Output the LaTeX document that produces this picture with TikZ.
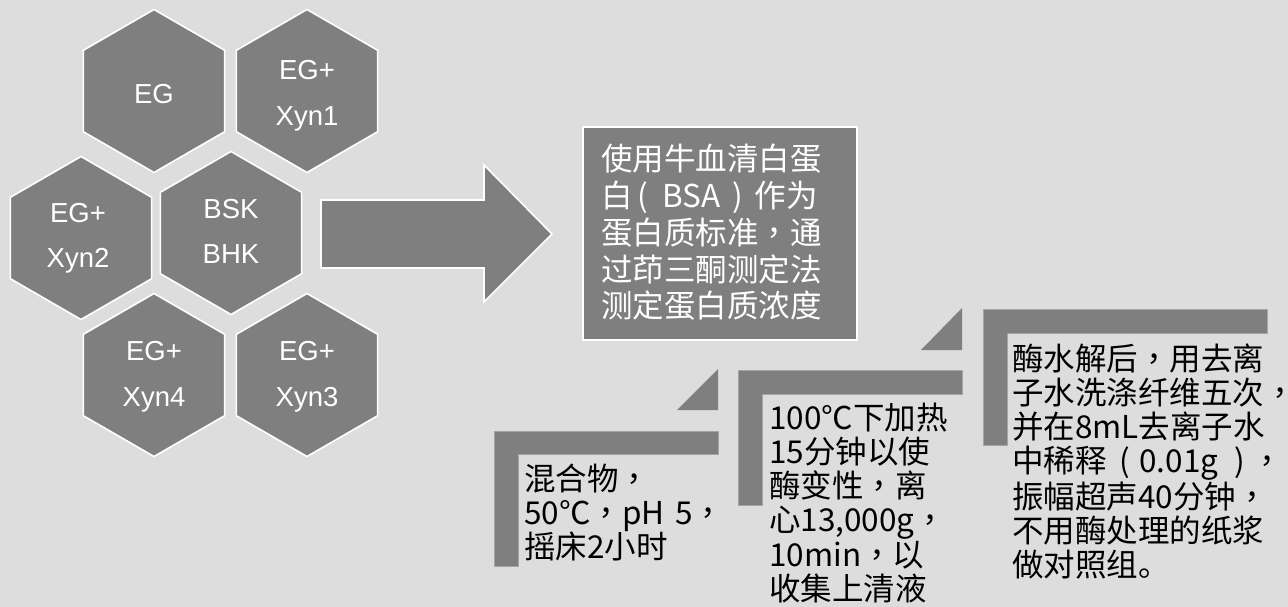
\documentclass[tikz,border=0pt]{standalone}
\usepackage{fontspec}
\setmainfont{Liberation Sans}
\newfontfamily\cjk{Noto Sans CJK SC}
\newfontfamily\cjktc{Noto Sans CJK TC}
\newcommand\zcm{{\cjktc ，}}
\definecolor{bg}{RGB}{221,221,221}
\definecolor{shapegray}{RGB}{127,127,127}
\definecolor{edgegray}{RGB}{165,165,165}
\tikzset{
  hexshape/.style={fill=shapegray, draw=white, line width=1.6pt, line join=miter},
  hextext/.style={text=white, font=\fontsize{27.5}{46}\selectfont, align=center, text width=140pt, inner sep=0pt, anchor=base},
  boxshape/.style={fill=shapegray, draw=white, line width=1.6pt, inner sep=0pt, anchor=north west},
  boxtext/.style={text=white, font=\cjk\fontsize{31.5}{36.7}\selectfont, align=left, text width=400pt, inner sep=0pt, anchor=base west},
  stepshape/.style={fill=shapegray, draw=edgegray, line width=0.6pt},
  steptext/.style={text=black, font=\cjk\fontsize{31.5}{34.3}\selectfont, align=left, text width=400pt, inner sep=0pt, anchor=base west},
  bigarrow/.style={fill=shapegray, draw=white, line width=1.6pt, line join=miter}
}
\begin{document}
\begin{tikzpicture}[x=1pt,y=-1pt]
\useasboundingbox (0,0) rectangle (1288,607);
\fill[bg] (0,0) rectangle (1288,607);

% hexagons
\foreach \cx/\cy in {154/91, 307/91, 81/238, 231/233, 154/375, 307/375}{
  \draw[hexshape, shift={(\cx,\cy)}] (90:81.5) -- (30:81.5) -- (-30:81.5) -- (-90:81.5) -- (-150:81.5) -- (150:81.5) -- cycle;
}
\node[hextext] (eg) at (154,104) {EG};
\node[hextext] (xyn1) at (307,80) {EG+\\Xyn1};
\node[hextext] (xyn2) at (78,222) {EG+\\Xyn2};
\node[hextext] (bsk) at (231,218) {BSK\\BHK};
\node[hextext] (xyn4) at (154,360) {EG+\\Xyn4};
\node[hextext] (xyn3) at (307,360) {EG+\\Xyn3};

% big arrow
\draw[bigarrow] (321,200) -- (484,200) -- (484,165) -- (552,234) -- (484,302) -- (484,268) -- (321,268) -- cycle;

% box
\node[boxshape, minimum width=274pt, minimum height=213pt] (box) at (582,126) {};
\node[boxtext] (boxt) at (601,171) {使用牛血清白蛋\\白\hspace{0.15em}(\hspace{0.45em}BSA\hspace{0.4em})\hspace{0.35em}作为\\蛋白质标准\zcm 通\\过茚三酮测定法\\测定蛋白质浓度};

% steps
\draw[stepshape] (494,431) -- (718,431) -- (718,454) -- (518,454) -- (518,566) -- (494,566) -- cycle;
\fill[shapegray] (718,369) -- (718,410) -- (677,410) -- cycle;
\draw[stepshape] (738,370) -- (962,370) -- (962,394) -- (762,394) -- (762,505) -- (738,505) -- cycle;
\fill[shapegray] (962,308) -- (962,350) -- (921,350) -- cycle;
\draw[stepshape] (983,309) -- (1267,309) -- (1267,333) -- (1007,333) -- (1007,445) -- (983,445) -- cycle;

\node[steptext] (s1) at (524,490) {混合物\zcm\\50℃\zcm pH 5\zcm\\摇床2小时};
\node[steptext] (s2) at (769,429) {100℃下加热\\15分钟以使\\酶变性\zcm 离\\心13,000g\zcm\\10min\zcm 以\\收集上清液};
\node[steptext] (s3) at (1012,370) {酶水解后\zcm 用去离\\子水洗涤纤维五次\zcm\\并在8mL去离子水\\中稀释\hspace{0.4em}(\hspace{0.3em}0.01g\hspace{0.5em})\hspace{0.2em}\zcm\\振幅超声40分钟\zcm\\不用酶处理的纸浆\\做对照组。};
\end{tikzpicture}
\end{document}
